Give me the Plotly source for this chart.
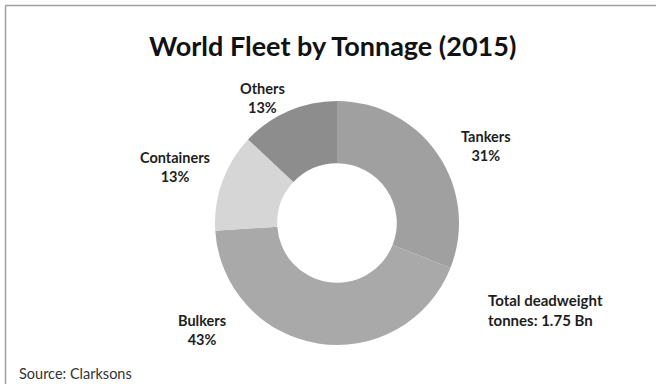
import plotly.graph_objects as go

categories = ["Tankers", "Bulkers", "Containers", "Others"]
shares = [31, 43, 13, 13]
colors = ["#a0a0a0", "#a9a9a9", "#d6d6d6", "#8d8d8d"]

title_text = "World Fleet by Tonnage (2015)"
note_text = "Total deadweight<br>tonnes: 1.75 Bn"
source_text = "Source: Clarksons"

W, H = 656, 384

def px(x):
    return x / W

def py(y):
    return 1 - y / H

fig = go.Figure()
fig.add_trace(go.Pie(
    labels=categories,
    values=shares,
    sort=False,
    direction="clockwise",
    rotation=0,
    hole=0.49,
    marker=dict(colors=colors, line=dict(width=0)),
    textinfo="none",
    hoverinfo="label+percent",
    showlegend=False,
    domain=dict(x=[px(215), px(459)], y=[py(345), py(101)]),
))

label_pos = {
    "Tankers": (486, 146),
    "Bulkers": (202, 330),
    "Containers": (175, 167),
    "Others": (262, 98),
}

font_fam = "Lato, 'Open Sans', sans-serif"
annotations = []
for cat, val in zip(categories, shares):
    x, y = label_pos[cat]
    annotations.append(dict(
        x=px(x), y=py(y), xref="paper", yref="paper",
        text=f"<b>{cat}<br>{val}%</b>", showarrow=False,
        xanchor="center", yanchor="middle", align="center",
        font=dict(family=font_fam, size=14.5, color="#1e1e1e"),
    ))

annotations.append(dict(
    x=px(486), y=py(310), xref="paper", yref="paper",
    text=f"<b>{note_text}</b>", showarrow=False,
    xanchor="left", yanchor="middle", align="left",
    font=dict(family=font_fam, size=15, color="#1e1e1e"),
))
annotations.append(dict(
    x=px(333), y=py(46), xref="paper", yref="paper",
    text=f"<b>{title_text}</b>", showarrow=False,
    xanchor="center", yanchor="middle",
    font=dict(family=font_fam, size=27, color="#111111"),
))
annotations.append(dict(
    x=px(17), y=py(373), xref="paper", yref="paper",
    text=source_text, showarrow=False,
    xanchor="left", yanchor="middle",
    font=dict(family=font_fam, size=14.5, color="#333333"),
))

shapes = [
    dict(type="line", xref="paper", yref="paper",
         x0=px(5.5), x1=px(5.5), y0=py(5.5), y1=py(384),
         line=dict(color="#a0a0a0", width=1.5)),
    dict(type="line", xref="paper", yref="paper",
         x0=px(5.5), x1=px(656), y0=py(5.5), y1=py(5.5),
         line=dict(color="#a0a0a0", width=1.5)),
]

fig.update_layout(
    width=W, height=H,
    margin=dict(l=0, r=0, t=0, b=0),
    paper_bgcolor="white",
    plot_bgcolor="white",
    annotations=annotations,
    shapes=shapes,
)

fig.write_html("out.html")
